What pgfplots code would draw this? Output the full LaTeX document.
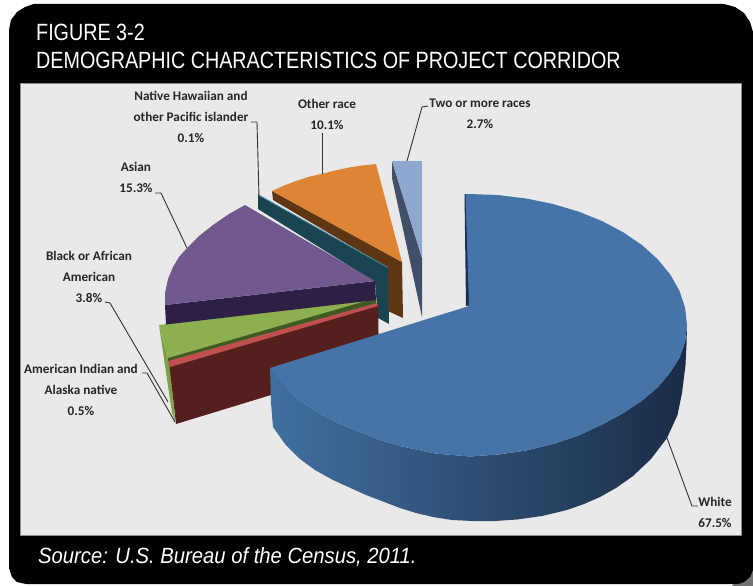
\documentclass[border=0pt]{standalone}
\usepackage{pgfplots}
\pgfplotsset{compat=1.18}
\usepackage{fontspec}
\setmainfont{Carlito}
\newfontfamily\headfont[FakeStretch=0.84]{Liberation Sans}
\newfontfamily\srcfont[FakeStretch=0.92]{Liberation Sans}
\definecolor{panel}{HTML}{E9E9E9}
\definecolor{panelrule}{HTML}{8A8A8A}
\definecolor{whitetop}{HTML}{4674A9}
\definecolor{whiteA}{HTML}{41709F}
\definecolor{whiteB}{HTML}{263F63}
\definecolor{whiteC}{HTML}{1A2C46}
\definecolor{whitecut}{HTML}{16304F}
\definecolor{indiantop}{HTML}{C0504D}
\definecolor{indianside}{HTML}{551F1E}
\definecolor{blacktop}{HTML}{8CAF50}
\definecolor{blackrim}{HTML}{7EA046}
\definecolor{blackside}{HTML}{3F5A24}
\definecolor{asiantop}{HTML}{71588F}
\definecolor{asianside}{HTML}{2E2045}
\definecolor{hawaiianside}{HTML}{1A4550}
\definecolor{hawaiiantop}{HTML}{3B8A9B}
\definecolor{othertop}{HTML}{DD8435}
\definecolor{otherside}{HTML}{5F3613}
\definecolor{twotop}{HTML}{8FA8CF}
\definecolor{twoside}{HTML}{414F68}
\definecolor{leader}{HTML}{333333}
\tikzset{slicelabel/.style={font=\fontsize{13.2}{21}\selectfont\bfseries, text=black!85, align=center, inner sep=0pt}}
\begin{document}
\begin{tikzpicture}
\begin{axis}[
  width=753pt, height=586pt, scale only axis,
  xmin=0, xmax=753, ymin=0, ymax=586, y dir=reverse,
  hide axis,
  every axis plot/.append style={line join=round},
]
% page, frame and plot panel
\addplot[fill=white, draw=none] coordinates {(0,0)(753,0)(753,586)(0,586)} --cycle;
\addplot[fill=black!55, draw=none] coordinates {(732,586)(753,586)(753,562)} --cycle;
\addplot[fill=black, draw=none] coordinates {
  (9,30)(11,20)(17,12)(25,7)(34,4)(724,4)(735,7)(744,13)(750,22)(753,32)
  (753,570)(750,577)(744,582)(738,584)(26,584)(17,582)(12,577)(9,568)} --cycle;
\addplot[fill=panel, draw=panelrule, line width=1pt] coordinates {(20,83.5)(741,83.5)(741,535)(20,535)} --cycle;

% Two or more races
\addplot[fill=twoside, draw=none] coordinates {(392,161)(422,258)(422,317)(392,178)} --cycle;
\addplot[fill=twotop, draw=none] coordinates {(392,161)(422,161)(422,258)} --cycle;

% Other race
\addplot[fill=otherside, draw=none] coordinates {(272,191)(402,262)(403,318)(388,311)(388,268)(273,200)} --cycle;
\addplot[fill=othertop, draw=none] coordinates {(272,191)(284,185.5)(296,181)(308,177)(321,174)(335,170.5)(349,167.5)(362,165.5)(376,164)(402,262)} --cycle;

% Native Hawaiian and other Pacific islander
\addplot[fill=hawaiianside, draw=none] coordinates {(258,195)(388,268)(389,324)(378,318)(375,282)(258,209)} --cycle;
\addplot[draw=hawaiiantop, line width=0.7pt] coordinates {(258,194.5)(388,267.5)};

% American Indian and Alaska native
\addplot[fill=blackrim, draw=none] coordinates {(159,325)(168,358)(170,366)(175,421)(172,413)} --cycle;
\addplot[fill=indianside, draw=none] coordinates {(169,362)(378,303)(379,362)(176,424)} --cycle;

% Black or African American
\addplot[fill=blackside, draw=none] coordinates {(168,357)(376,297)(376,304)(168,362)} --cycle;
\addplot[fill=indiantop, draw=none] coordinates {(168,361)(170,367)(378,306)(377,303)} --cycle;
\addplot[fill=blacktop, draw=none] coordinates {(159,325)(376,298)(168,358)} --cycle;

% Asian
\addplot[fill=asianside, draw=none] coordinates {(165,305)(375,281)(376,300)(166,324.5)} --cycle;
\addplot[fill=asiantop, draw=none] coordinates {(245,205)(229,214)(213,225)(199,236)(187,248)(179,257)(173,267)(168,279)(165,293)(165,305)(375,281)} --cycle;

% White
\addplot[left color=whiteA, middle color=whiteB, right color=whiteC, draw=none] coordinates {
  (270,368)(276,376.5)(285,387)(300,400.5)(317,412)(339,423.5)(361,432.5)(380,440)(400,446)(435,453.5)(470,456.5)
  (498.3,454.5)(526.2,450.5)(553,444)(578.5,435.5)(602.1,424.5)(623.4,413)(642.2,400.5)(657.9,387)(670.5,372)(679.6,357.5)(685.1,342)(687,325)
  (686.5,345)(685.5,365)(682,393)(677.5,415)(667,438)(651,459)(633,476)(616,488)(600,497)(584,504)(567,510)(542,516)(517,519.5)(495,521)(473,521)(452,520)(433,517)(416,513)(400,508)(366,495)(333,480)(315,470)(300,459)(285,444)(273,427)(271,403)} --cycle;
\addplot[fill=whitecut, draw=none] coordinates {(464.5,194)(466,306)(470,305.5)(466,194)} --cycle;
\addplot[fill=whitetop, draw=none] coordinates {
  (465.5,194)(470,194)(498.3,195.1)(526.2,198.5)(553,204)(578.5,211.6)(602.1,221.1)(623.4,232.4)(642.2,245.2)(657.9,259.5)(670.5,274.9)(679.6,291.1)(685.1,307.9)(687,325)
  (685.1,342)(679.6,357.5)(670.5,372)(657.9,387)(642.2,400.5)(623.4,413)(602.1,424.5)(578.5,435.5)(553,444)(526.2,450.5)(498.3,454.5)(470,456.5)
  (435,453.5)(400,446)(380,440)(361,432.5)(339,423.5)(317,412)(300,400.5)(285,387)(276,376.5)(270,368)(469,306)} --cycle;

% leader lines
\addplot[draw=leader, line width=0.9pt] coordinates {(155,193)(161,193)(187,248)};
\addplot[draw=leader, line width=0.9pt] coordinates {(251,122)(257,122)(259,197)};
\addplot[draw=leader, line width=0.9pt] coordinates {(322,133)(322,174)};
\addplot[draw=leader, line width=0.9pt] coordinates {(428,106)(422,107)(407,161)};
\addplot[draw=leader, line width=0.9pt] coordinates {(667,438)(692,506)(698,506)};
\addplot[draw=leader, line width=0.9pt] coordinates {(105,302)(110,303)(168,402)};
\addplot[draw=leader, line width=0.9pt] coordinates {(142,373)(147,373)(175,422)};

% headings
\node[anchor=base west, inner sep=0pt, text=white, font=\headfont\fontsize{23.5}{24}\selectfont] at (axis cs:36,41) {FIGURE 3-2};
\node[anchor=base west, inner sep=0pt, text=white, font=\headfont\fontsize{23.5}{24}\selectfont] at (axis cs:36,69) {DEMOGRAPHIC CHARACTERISTICS OF PROJECT CORRIDOR};
\node[anchor=base west, inner sep=0pt, text=white, font=\srcfont\itshape\fontsize{22}{24}\selectfont] at (axis cs:38,563) {Source: U.S. Bureau of the Census, 2011.};

% slice labels
\node[slicelabel] at (axis cs:191,117) {Native Hawaiian and\\other Pacific islander\\0.1\%};
\node[slicelabel] at (axis cs:327,114.5) {Other race\\10.1\%};
\node[slicelabel] at (axis cs:480,113.5) {Two or more races\\2.7\%};
\node[slicelabel] at (axis cs:136,177.5) {Asian\\15.3\%};
\node[slicelabel] at (axis cs:89,277) {Black or African\\American\\3.8\%};
\node[slicelabel] at (axis cs:81,390) {American Indian and\\Alaska native\\0.5\%};
\node[slicelabel] at (axis cs:715,512) {White\\67.5\%};
\end{axis}
\end{tikzpicture}
\end{document}
